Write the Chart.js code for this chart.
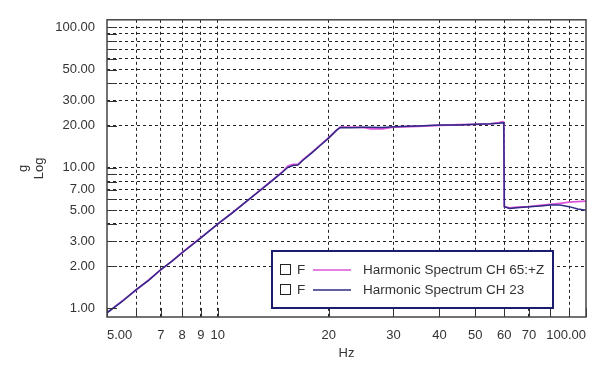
<!DOCTYPE html>
<html>
<head>
<meta charset="utf-8">
<script src="https://cdn.jsdelivr.net/npm/chart.js@4"></script>
<style>
  html, body { margin: 0; padding: 0; background: #fff; }
  #wrap { width: 597px; height: 368px; }
</style>
</head>
<body>
<div id="wrap"><canvas id="myChart" width="597" height="368"></canvas></div>
<script>
'use strict';

// spectrum (Hz, g)
const freqs = [5.0, 5.5, 6.0, 6.5, 7.0, 7.5, 8.0, 9.0, 10, 11, 12, 13, 14, 15, 15.5, 16, 16.5, 17, 18, 19, 20, 21, 21.5,
  23, 25, 26, 28, 30, 35, 40, 45, 50, 55, 58, 59.5, 59.8, 60.0, 62, 65, 70, 75, 80, 85, 90, 95, 100];
const ch65 = [0.93, 1.13, 1.35, 1.6, 1.88, 2.17, 2.5, 3.2, 3.98, 4.85, 5.8, 6.9, 8.1, 9.4, 10.3, 10.6, 10.6, 11.4, 12.9, 14.6, 16.4, 18.6, 19.5,
  19.5, 19.4, 19.0, 19.0, 19.5, 19.8, 20.1, 20.3, 20.4, 20.6, 21.0, 21.3, 20.9, 5.3, 5.2, 5.25, 5.3, 5.4, 5.5, 5.6, 5.7, 5.75, 5.8];
const ch23 = [0.93, 1.12, 1.36, 1.59, 1.89, 2.16, 2.49, 3.18, 4.0, 4.83, 5.82, 6.88, 8.05, 9.35, 10.1, 10.4, 10.5, 11.3, 12.8, 14.5, 16.3, 18.5, 19.4,
  19.3, 19.5, 19.5, 19.4, 19.6, 19.9, 20.2, 20.2, 20.5, 20.6, 20.8, 21.0, 20.9, 5.3, 5.15, 5.2, 5.3, 5.35, 5.45, 5.45, 5.3, 5.1, 5.0];

const xTicks = [5, 6, 7, 8, 9, 10, 20, 30, 40, 50, 60, 70, 80, 90, 100];
const xLabelled = [5, 7, 8, 9, 10, 20, 30, 40, 50, 60, 70, 100];
const yTicks = [1, 2, 3, 4, 5, 6, 7, 8, 9, 10, 20, 30, 40, 50, 60, 70, 80, 90, 100];
const yLabelled = [1, 2, 3, 5, 7, 10, 20, 30, 50, 100];

const seriesNames = ['Harmonic Spectrum CH 65:+Z', 'Harmonic Spectrum CH 23'];
const seriesColors = ['#dd55dd', '#2e2a86'];

const FONT = 'Liberation Sans, Arial, sans-serif';
const TEXT = '#333';

function points( ys ) {
  return freqs.map( ( f, i ) => ( { x: f, y: ys[i] } ) );
}

// frame, inward tick marks and the boxed legend
const decor = {
  id: 'decor',
  afterDraw( chart ) {
    const ctx = chart.ctx;
    const a = chart.chartArea;
    const xs = chart.scales.x;
    const ys = chart.scales.y;
    ctx.save();
    ctx.strokeStyle = '#333';
    ctx.lineWidth = 1;
    ctx.beginPath();
    for ( const t of xTicks ) {
      const px = Math.round( xs.getPixelForValue( t ) ) + 0.5;
      ctx.moveTo( px, a.bottom );
      ctx.lineTo( px, a.bottom - 9 );
    }
    for ( const t of yTicks ) {
      const py = Math.round( ys.getPixelForValue( t ) ) + 0.5;
      ctx.moveTo( a.left, py );
      ctx.lineTo( a.left + 10, py );
    }
    ctx.stroke();

    ctx.strokeStyle = '#444';
    ctx.lineWidth = 1.5;
    ctx.strokeRect( a.left, a.top, a.right - a.left, a.bottom - a.top );

    // legend
    const lx = 272, ly = 251, lw = 281, lh = 57;
    ctx.fillStyle = '#fff';
    ctx.fillRect( lx, ly, lw, lh );
    ctx.strokeStyle = '#1c1c6e';
    ctx.lineWidth = 2;
    ctx.strokeRect( lx, ly, lw, lh );
    ctx.font = '13.5px ' + FONT;
    ctx.textBaseline = 'middle';
    chart.data.datasets.forEach( ( ds, i ) => {
      const cy = ly + 19 + i * 20;
      ctx.strokeStyle = '#222';
      ctx.lineWidth = 1;
      ctx.strokeRect( 280.5, cy - 5.5, 10, 10 );
      ctx.fillStyle = TEXT;
      ctx.fillText( 'F', 297, cy );
      ctx.strokeStyle = ds.borderColor;
      ctx.lineWidth = 1.5;
      ctx.beginPath();
      ctx.moveTo( 313, cy );
      ctx.lineTo( 351, cy );
      ctx.stroke();
      ctx.fillStyle = TEXT;
      ctx.fillText( ds.label, 363, cy );
    } );
    ctx.restore();
  }
};

const ctx = document.getElementById( 'myChart' ).getContext( '2d' );
const myChart = new Chart( ctx, {
  type: 'line',
  data: {
    datasets: [{
      label: seriesNames[0],
      data: points( ch65 ),
      borderColor: seriesColors[0],
      borderWidth: 1.8,
      pointRadius: 0,
      tension: 0,
      order: 1
    }, {
      label: seriesNames[1],
      data: points( ch23 ),
      borderColor: seriesColors[1],
      borderWidth: 1.5,
      pointRadius: 0,
      tension: 0,
      order: 0
    }]
  },
  options: {
    responsive: false,
    animation: false,
    layout: { padding: { left: 0, right: 9, top: 7, bottom: 0 } },
    plugins: {
      legend: { display: false },
      tooltip: { enabled: false }
    },
    scales: {
      x: {
        type: 'logarithmic',
        min: 5,
        max: 100,
        afterBuildTicks( scale ) {
          scale.ticks = xTicks.map( v => ( { value: v } ) );
        },
        afterFit( scale ) {
          scale.height = 51;
        },
        border: { display: false, dash: [3, 3] },
        grid: {
          drawTicks: false,
          color: c => ( c.tick && ( c.tick.value === 5 || c.tick.value === 100 ) ) ? 'rgba(0,0,0,0)' : '#222',
          lineWidth: 1
        },
        ticks: {
          autoSkip: false,
          maxRotation: 0,
          align: 'inner',
          padding: 11,
          color: TEXT,
          font: { family: FONT, size: 13 },
          callback( v ) {
            if ( !xLabelled.includes( v ) ) return '';
            if ( v === 5 || v === 100 ) return v.toFixed( 2 );
            return String( v );
          }
        },
        title: {
          display: true,
          text: 'Hz',
          color: TEXT,
          font: { family: FONT, size: 13 },
          padding: { top: 2, bottom: 7 }
        }
      },
      y: {
        type: 'logarithmic',
        min: 0.868,
        max: 113.4,
        afterBuildTicks( scale ) {
          scale.ticks = yTicks.map( v => ( { value: v } ) );
        },
        afterFit( scale ) {
          scale.width = 107;
        },
        border: { display: false, dash: [3, 3] },
        grid: {
          drawTicks: false,
          color: c => ( c.tick && c.tick.value === 1 ) ? 'rgba(0,0,0,0)' : '#222',
          lineWidth: 1
        },
        ticks: {
          autoSkip: false,
          padding: 12,
          color: TEXT,
          font: { family: FONT, size: 13 },
          callback( v ) {
            return yLabelled.includes( v ) ? v.toFixed( 2 ) : '';
          }
        },
        title: {
          display: true,
          text: ['g', 'Log'],
          color: TEXT,
          font: { family: FONT, size: 13 },
          padding: { top: 16, bottom: 0 }
        }
      }
    }
  },
  plugins: [decor]
} );
</script>
</body>
</html>
